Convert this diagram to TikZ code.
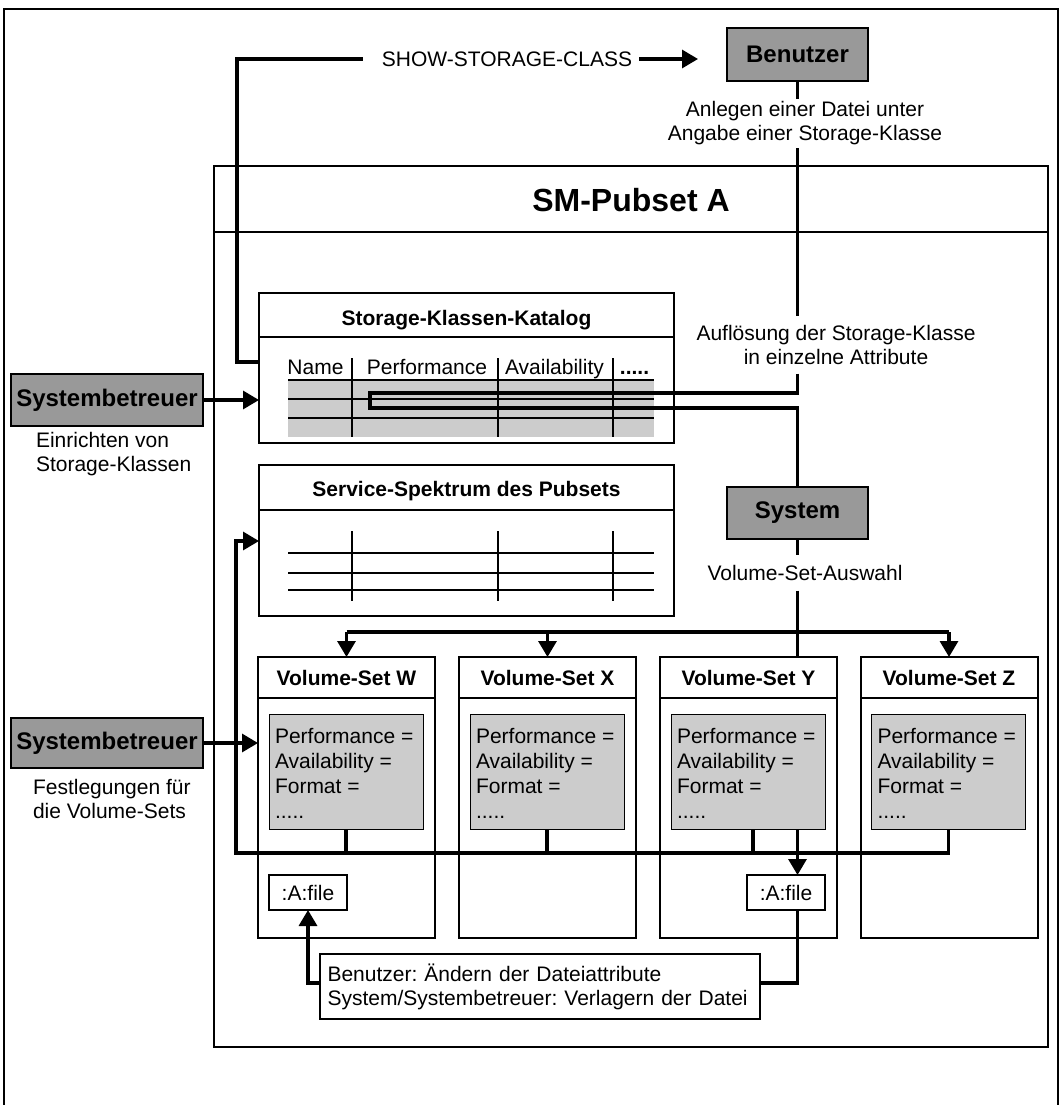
\documentclass[tikz,border=0pt]{standalone}
\usepackage{fontspec}
\setmainfont{Liberation Sans}
\usetikzlibrary{arrows.meta,calc}
\definecolor{actorgray}{HTML}{999999}
\definecolor{cellgray}{HTML}{CCCCCC}
\frenchspacing
\begin{document}
\begin{tikzpicture}[x=1pt,y=-1pt,
  every node/.style={inner sep=0pt, outer sep=0pt},
  frame/.style={line width=1.4pt},
  rule/.style={line width=1.1pt},
  conn/.style={line width=3.2pt},
  arr/.style={conn, -{Triangle[length=16pt,width=18pt]}},
  actor/.style={draw, line width=1.3pt, fill=actorgray, font=\fontsize{24}{28}\selectfont\bfseries},
  txt/.style={font=\fontsize{21}{24}\selectfont},
  bold/.style={font=\fontsize{21}{24}\selectfont\bfseries},
  vsbox/.style={draw, line width=2pt, minimum width=177pt, minimum height=281pt},
  attr/.style={draw, line width=1pt, fill=cellgray, minimum width=154pt, minimum height=115pt},
  filebox/.style={draw, line width=1.2pt, minimum width=78pt, minimum height=35pt, txt},
  table/.style={draw, frame, minimum width=415pt}]

\useasboundingbox (0,0) rectangle (1064,1105);

% page frame
\draw[frame] (4,1105) -- (4,9) -- (1058,9) -- (1058,1105);

% pubset container
\node[draw, frame, minimum width=834pt, minimum height=881pt] (sm) at (631,606.5) {};
\draw[frame] ($(sm.north west)+(0,66)$) -- ($(sm.north east)+(0,66)$);
\node[font=\fontsize{32}{36}\selectfont\bfseries, anchor=base] (smt) at (631,211) {SM-Pubset A};

% storage class catalog
\node[table, minimum height=150pt] (cat) at (466.5,368) {};
\draw[frame] ($(cat.north west)+(0,44)$) -- ($(cat.north east)+(0,44)$);
\node[bold, anchor=base] (catt) at (466.5,325) {Storage-Klassen-Katalog};
\fill[cellgray] (288,380) rectangle (654,437);
\foreach \y in {380,399,418} \draw[rule] (288,\y) -- (654,\y);
\foreach \x in {352,498,613} \draw[rule] (\x,358) -- (\x,437);
\node[txt, anchor=base] (hname) at (315.5,374) {Name};
\node[txt, anchor=base] (hperf) at (427,374) {Performance};
\node[txt, anchor=base] (havail) at (554.5,374) {Availability};
\node[bold, anchor=base] (hmore) at (634.5,374) {.....};

% service spectrum
\node[table, minimum height=151pt] (svc) at (466.5,540.5) {};
\draw[frame] ($(svc.north west)+(0,45)$) -- ($(svc.north east)+(0,45)$);
\node[bold, anchor=base] (svct) at (466.5,496) {Service-Spektrum des Pubsets};
\foreach \y in {553,573,590} \draw[rule] (288,\y) -- (654,\y);
\foreach \x in {352,498,613} \draw[rule] (\x,531) -- (\x,601);

% actors
\node[actor, minimum width=141pt, minimum height=53pt] (benutzer) at (797.5,54.5) {Benutzer};
\node[actor, minimum width=141pt, minimum height=52pt] (system) at (797.5,513) {System};
\node[actor, minimum width=192pt, minimum height=52pt] (sysA) at (107,400) {Systembetreuer};
\node[actor, minimum width=192pt, minimum height=50pt] (sysB) at (107,743) {Systembetreuer};
\node[txt, align=left, anchor=north west] (capA) at (36,432) {Einrichten von\\Storage-Klassen};
\node[txt, align=left, anchor=north west] (capB) at (33,779) {Festlegungen für\\die Volume-Sets};

% labels on the request path
\node[txt, anchor=center, inner xsep=7pt] (ssc) at (507,59) {SHOW-STORAGE-CLASS};
\node[txt, align=center, inner ysep=3pt] (anl) at (805,123.5) {Anlegen einer Datei unter\\Angabe einer Storage-Klasse};
\node[txt, align=center, inner ysep=9pt] (aufl) at (836,345) {Auflösung der Storage-Klasse\\in einzelne Attribute};
\node[txt, inner ysep=10pt] (vsa) at (805,573) {Volume-Set-Auswahl};

% volume sets
\foreach \n/\x in {W/346.5, X/547.5, Y/748.5, Z/949} {
  \node[vsbox] (vs\n) at (\x,797.5) {};
  \draw[line width=2pt] ($(vs\n.north west)+(0,41)$) -- ($(vs\n.north east)+(0,41)$);
  \node[bold, anchor=base] (vst\n) at (\x,685) {Volume-Set \n};
  \node[attr] (g\n) at (\x-0.5,771.5) {};
  \node[font=\fontsize{21}{25}\selectfont, align=left, anchor=north west] (gt\n) at ($(g\n.north west)+(6,14)$) {Performance =\\Availability =\\Format =\\.....};
}

% files
\node[filebox] (fileW) at (308,892.5) {:A:file};
\node[filebox] (fileY) at (786,892.5) {:A:file};
\node[draw, line width=1.2pt, txt, align=left, text width=425pt, inner xsep=7.5pt, minimum height=65pt] (tb) at (540,986.5) {Benutzer: Ändern der Dateiattribute\\System/Systembetreuer: Verlagern der Datei};

% helper points
\coordinate (catin) at ($(cat.north west)+(0,69)$);
\coordinate (lookA) at (370,393);
\coordinate (lookB) at (370,408);
\coordinate (dist) at (797.5,632);
\coordinate (bus) at (236,853);
\coordinate (svcin) at ($(svc.north west)+(0,76)$);
\coordinate (tbL) at ($(tb.north west)+(0,29)$);
\coordinate (tbR) at ($(tb.north east)+(0,29)$);

% SHOW-STORAGE-CLASS
\draw[conn] (catin) -| (237,59) -- ($(ssc.west)+(-12,0)$);
\draw[arr] (ssc.east) -- ($(benutzer.west |- ssc)+(-29,0)$);

% user request resolved through the catalog
\draw[conn] (benutzer.south) -- (anl.north -| benutzer.south);
\draw[conn] (anl.south -| benutzer.south) -- (aufl.north -| benutzer.south);
\draw[conn] (aufl.south -| benutzer.south) -- (benutzer.south |- lookA) -- (lookA)
  -- (lookB) -- (benutzer.south |- lookB) -- (system.north);

% administrator inputs
\draw[arr] (sysA.east) -- (sysA.east -| cat.west);
\draw[arr] (sysB.east) -- (sysB.east -| vsW.west);

% volume set selection
\draw[conn] (system.south) -- (vsa.north -| system.south);
\draw[conn] (vsa.south -| system.south) -- (vsY.north -| system.south);
\draw[conn] (vsW.north |- dist) -- (vsZ.north |- dist);
\foreach \n in {W,X,Z} \draw[arr] (vs\n.north |- dist) -- (vs\n.north);

% attributes reported to the service spectrum
\foreach \n in {W,X} \draw[conn] (g\n.south) -- (g\n.south |- bus);
\draw[conn] ($(gY.south)+(5,0)$) -- ($(gY.south |- bus)+(5,0)$);
\draw[arr] (gZ.south) |- (bus) -- (bus |- svcin) -- (svcin);

% file placement and migration
\draw[arr] (gY.south -| system.south) -- (fileY.north -| system.south);
\draw[arr] (tbL) -| (fileW.south);
\draw[conn] (tbR) -| (fileY.south -| system.south);

\end{tikzpicture}
\end{document}
